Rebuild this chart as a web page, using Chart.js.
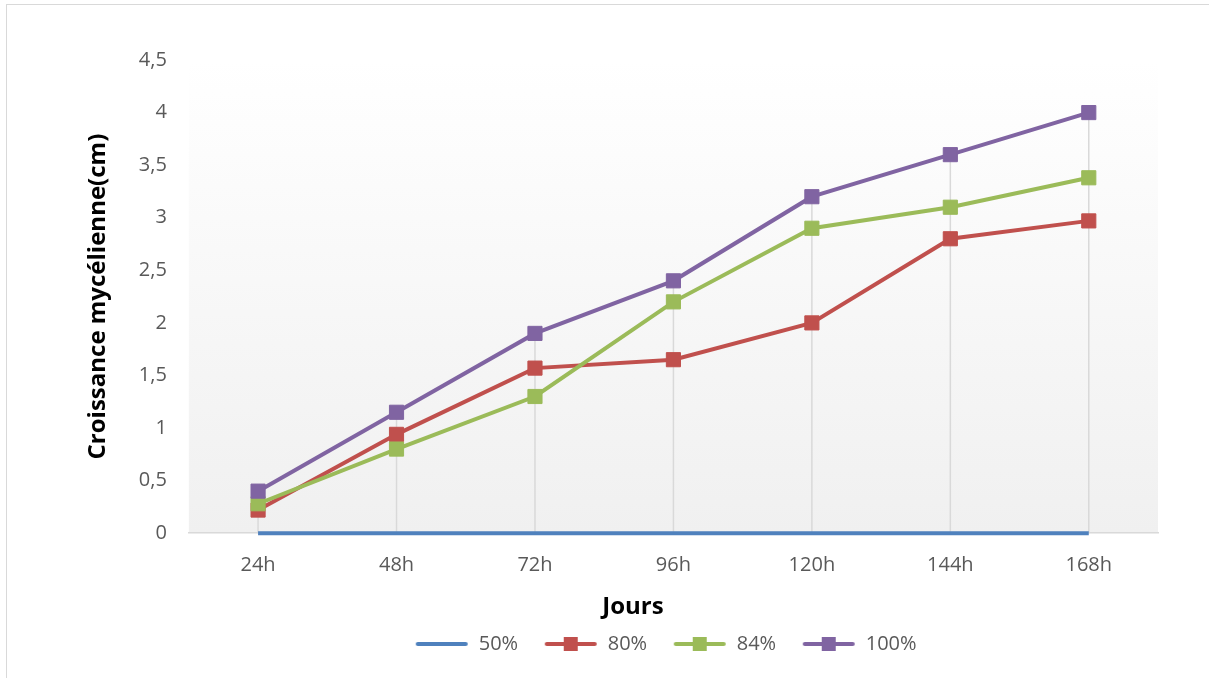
<!DOCTYPE html>
<html lang="fr"><head>
<meta charset="utf-8">
<title>Croissance mycélienne</title>
<style type="text/css">
body   { margin:0; background:#ffffff; font-family:"Open Sans",sans-serif; overflow:hidden; }
#frame { position:absolute; left:6px; top:4px; width:1240px; height:700px; border:1px solid #d9d9d9; }
#wrap  { position:absolute; left:0; top:0; width:1209px; height:678px; }
</style>
<script src="https://cdn.jsdelivr.net/npm/chart.js"></script>
<script>

var categories=['24h','48h','72h','96h','120h','144h','168h'];
var s50=[0,0,0,0,0,0,0];
var s80=[0.22,0.94,1.57,1.65,2.0,2.8,2.97];
var s84=[0.28,0.8,1.3,2.2,2.9,3.1,3.38];
var s100=[0.4,1.15,1.9,2.4,3.2,3.6,4.0];
var seriesNames=['50%','80%','84%','100%'];
var colors=['#4f81bd','#c0504d','#9bbb59','#8064a2'];

function legendIcon(color,marker) {
  var c=document.createElement('canvas'); c.width=54; c.height=16;
  var g=c.getContext('2d');
  g.strokeStyle=color; g.lineWidth=4; g.lineCap='round';
  g.beginPath(); g.moveTo(3,8); g.lineTo(51,8); g.stroke();
  if (marker) { g.fillStyle=color; g.fillRect(20,1,14,14); }
  return c; }

var plotBack={id:'plotBack',beforeDraw:function(chart) {
  var a=chart.chartArea, ctx=chart.ctx;
  var grad=ctx.createLinearGradient(0,a.top,0,a.bottom);
  grad.addColorStop(0,'#ffffff'); grad.addColorStop(1,'#f0f0f0');
  ctx.save(); ctx.fillStyle=grad; ctx.fillRect(a.left,a.top,a.right-a.left,a.bottom-a.top); ctx.restore(); }};

var dropLines={id:'dropLines',beforeDatasetsDraw:function(chart) {
  var x=chart.scales.x, y=chart.scales.y, ctx=chart.ctx;
  ctx.save(); ctx.strokeStyle='#d9d9d9'; ctx.lineWidth=1.5;
  for (var i=0;i<categories.length;i++) {
    var top=Math.max(s50[i],s80[i],s84[i],s100[i]);
    var px=x.getPixelForValue(i);
    ctx.beginPath(); ctx.moveTo(px,y.getPixelForValue(top)); ctx.lineTo(px,y.getPixelForValue(0)); ctx.stroke(); }
  ctx.restore(); }};

function makeSet(i,values,order,marker) {
  return {label:seriesNames[i],data:values,order:order,
    borderColor:colors[i],backgroundColor:colors[i],borderWidth:4,
    pointStyle:'rect',pointRadius:marker?10:0,pointHoverRadius:marker?10:0,
    pointBorderWidth:1,pointBorderColor:colors[i],pointBackgroundColor:colors[i],
    tension:0,clip:false}; }

function initChart() {
  var tickFont={family:'"Open Sans",sans-serif',size:20};
  var titleFont={family:'"Open Sans",sans-serif',size:24,weight:'bold'};
  var gap='\u00a0\u00a0\u00a0';
  new Chart(document.getElementById('chart'),{type:'line',
    data:{labels:categories,datasets:[
      makeSet(0,s50,0,false),makeSet(1,s80,3,true),makeSet(2,s84,2,true),makeSet(3,s100,1,true)]},
    options:{responsive:true,maintainAspectRatio:false,animation:false,
      layout:{padding:{left:80,right:51,top:60,bottom:14}},
      scales:{
        x:{offset:true,grid:{color:'rgba(0,0,0,0)',drawTicks:false},
          border:{display:true,color:'#d9d9d9',width:1.5},
          ticks:{color:'#595959',font:tickFont,padding:20},
          title:{display:true,text:'Jours'+'\u00a0'.repeat(13),color:'#000000',font:titleFont,padding:{top:-4,bottom:2}}},
        y:{min:0,max:4.5,grid:{display:false,drawTicks:false},border:{display:false},
          ticks:{stepSize:0.5,color:'#595959',font:tickFont,padding:22,
            callback:function(v){return v.toString().replace('.',',');}},
          title:{display:true,text:'Croissance mycélienne(cm)',color:'#000000',font:titleFont,padding:4}}},
      plugins:{
        legend:{position:'bottom',fullSize:false,labels:{usePointStyle:true,pointStyleWidth:54,boxHeight:16,padding:10,
          color:'#595959',font:tickFont,
          generateLabels:function(chart) {
            return chart.data.datasets.map(function(ds,i) {
              return {text:ds.label+gap,datasetIndex:i,fontColor:'#595959',
                pointStyle:legendIcon(colors[i],i>0),lineWidth:0,strokeStyle:'rgba(0,0,0,0)',fillStyle:colors[i]}; }); }}},
        tooltip:{enabled:false}}},
    plugins:[plotBack,dropLines]}); }

</script></head>
<body onload="initChart();">
<div id="frame"></div>
<div id="wrap"><canvas id="chart"></canvas></div>
</body></html>
